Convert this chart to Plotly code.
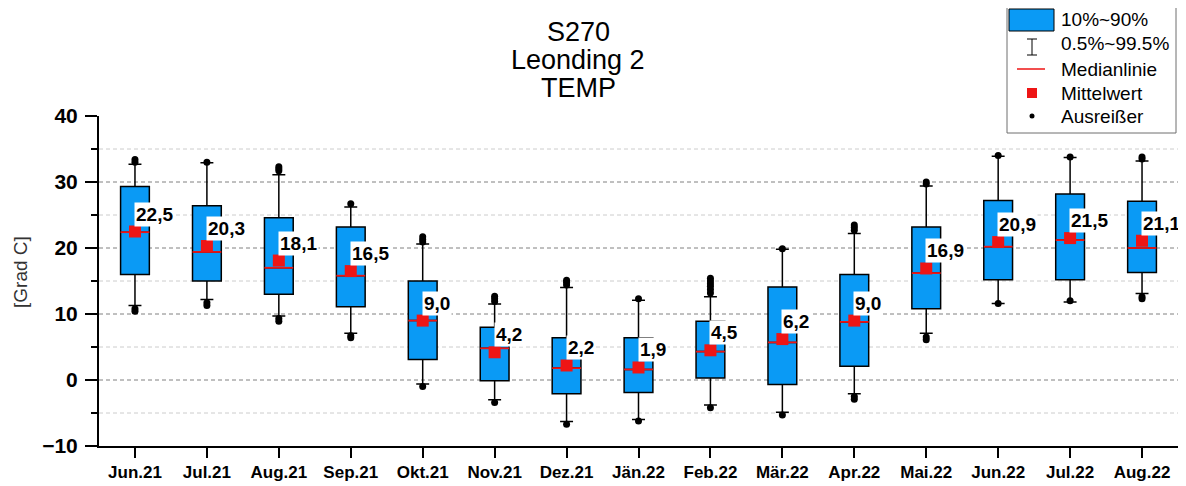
import plotly.graph_objects as go

months = ["Jun.21", "Jul.21", "Aug.21", "Sep.21", "Okt.21", "Nov.21", "Dez.21", "Jän.22",
          "Feb.22", "Mär.22", "Apr.22", "Mai.22", "Jun.22", "Jul.22", "Aug.22"]
p10 = [16.0, 15.0, 13.0, 11.1, 3.1, -0.1, -2.1, -1.9, 0.3, -0.7, 2.1, 10.8, 15.2, 15.2, 16.3]
p90 = [29.3, 26.4, 24.6, 23.2, 15.0, 8.0, 6.4, 6.4, 8.9, 14.1, 16.0, 23.2, 27.2, 28.2, 27.1]
median = [22.4, 19.4, 17.0, 15.8, 9.0, 4.8, 1.8, 1.6, 4.3, 5.7, 8.8, 16.2, 20.2, 21.2, 20.0]
mean = [22.5, 20.3, 18.1, 16.5, 9.0, 4.2, 2.2, 1.9, 4.5, 6.2, 9.0, 16.9, 20.9, 21.5, 21.1]
p005 = [11.3, 12.2, 9.7, 7.1, -0.6, -3.0, -6.3, -6.0, -3.8, -4.9, -2.1, 7.1, 11.6, 11.8, 13.1]
p995 = [32.7, 32.9, 31.1, 26.2, 20.6, 11.5, 14.0, 12.1, 12.6, 19.8, 22.2, 29.4, 33.9, 33.7, 33.2]
outliers = [
    [33.4, 33.0, 10.4, 10.8],
    [33.0, 11.3, 11.7],
    [32.3, 32.0, 31.7, 8.9, 9.3],
    [26.7, 6.4, 6.7],
    [21.7, 21.3, 20.9, -1.0],
    [12.7, 12.3, 11.9, -3.4],
    [15.1, 14.8, 14.4, -6.7],
    [12.3, -6.2],
    [15.4, 15.0, 14.6, 14.2, 13.7, 13.2, -4.2],
    [19.9, -5.3],
    [23.5, 23.1, 22.7, -2.9, -2.5],
    [30.0, 29.7, 6.1, 6.5],
    [34.0, 11.6],
    [33.8, 12.0],
    [33.8, 33.5, 12.3, 12.6],
]
title_lines = ["S270", "Leonding 2", "TEMP"]
legend_labels = ["10%~90%", "0.5%~99.5%", "Medianlinie", "Mittelwert", "Ausreißer"]
y_title = "[Grad C]"

FONT = "Arial, Liberation Sans, sans-serif"
BLUE = "#0A9AF5"
RED = "#EE1515"

# the page body adds an 8px margin; the figure is sized/placed to compensate
OFF = 8
W, H = 1186 - OFF, 486 - OFF
ML, MT = 99 - OFF, 116 - OFF
PW, PH = 1079, 330
MR = W - ML - PW
MB = H - MT - PH


def px(x):
    return (x - OFF - ML) / PW


def py(y):
    return (MT + PH - (y - OFF)) / PH


xs = list(range(len(months)))
half = 0.2

fig = go.Figure()
fig.add_trace(go.Box(
    x=xs, q1=p10, median=median, q3=p90, lowerfence=p005, upperfence=p995,
    width=0.4, fillcolor=BLUE, line=dict(color="black", width=1.5),
    whiskerwidth=0.45, boxpoints=False, showlegend=False, hoverinfo="skip"))

mx, my = [], []
for i, m in zip(xs, median):
    mx += [i - half, i + half, None]
    my += [m, m, None]
fig.add_trace(go.Scatter(x=mx, y=my, mode="lines", line=dict(color=RED, width=1.8),
                         showlegend=False, hoverinfo="skip"))

fig.add_trace(go.Scatter(x=xs, y=mean, mode="markers",
                         marker=dict(symbol="square", size=12, color=RED),
                         showlegend=False, hoverinfo="skip"))

ox, oy = [], []
for i, vals in zip(xs, outliers):
    for v in vals:
        ox.append(i)
        oy.append(v)
fig.add_trace(go.Scatter(x=ox, y=oy, mode="markers",
                         marker=dict(symbol="circle", size=7, color="black"),
                         showlegend=False, hoverinfo="skip"))

annotations = []
for i, m in zip(xs, mean):
    annotations.append(dict(
        x=i, y=m, xref="x", yref="y", xanchor="left", yanchor="bottom",
        xshift=-1, yshift=5, text="<b>" + f"{m:.1f}".replace(".", ",") + "</b>",
        showarrow=False, bgcolor="white", borderpad=1,
        font=dict(family=FONT, size=19, color="black")))

for t, yc in zip(title_lines, [32, 60, 88]):
    annotations.append(dict(x=px(578), y=py(yc), xref="paper", yref="paper",
                            xanchor="center", yanchor="middle", text=t, showarrow=False,
                            font=dict(family=FONT, size=27, color="black")))

annotations.append(dict(x=px(20), y=py(272), xref="paper", yref="paper",
                        xanchor="center", yanchor="middle", text=y_title, textangle=-90,
                        showarrow=False, font=dict(family=FONT, size=19, color="#333")))

shapes = []
for v in [0, 10, 20, 30]:
    shapes.append(dict(type="line", xref="paper", yref="y", x0=0, x1=1, y0=v, y1=v,
                       line=dict(color="#808080", width=1, dash="4px,3px"), layer="below"))
for v in [-5, 5, 15, 25, 35]:
    shapes.append(dict(type="line", xref="paper", yref="y", x0=0, x1=1, y0=v, y1=v,
                       line=dict(color="#cccccc", width=1, dash="4px,3px"), layer="below"))

# legend
shapes.append(dict(type="rect", xref="paper", yref="paper", x0=px(1007), x1=px(1176),
                   y0=py(133), y1=py(2), line=dict(color="#6e6e6e", width=1),
                   fillcolor="white", layer="above"))
shapes.append(dict(type="rect", xref="paper", yref="paper", x0=px(1009), x1=px(1054),
                   y0=py(31), y1=py(9), line=dict(color="black", width=1),
                   fillcolor=BLUE, layer="above"))
for (a, b, c, d) in [(1032, 39, 1032, 55), (1027, 39, 1037, 39), (1027, 55, 1037, 55)]:
    shapes.append(dict(type="line", xref="paper", yref="paper", x0=px(a), y0=py(b),
                       x1=px(c), y1=py(d), line=dict(color="black", width=1), layer="above"))
shapes.append(dict(type="line", xref="paper", yref="paper", x0=px(1017), y0=py(69),
                   x1=px(1045), y1=py(69), line=dict(color=RED, width=1.5), layer="above"))
shapes.append(dict(type="rect", xref="paper", yref="paper", x0=px(1027), x1=px(1037),
                   y0=py(98), y1=py(88), line=dict(width=0), fillcolor=RED, layer="above"))
shapes.append(dict(type="circle", xref="paper", yref="paper", x0=px(1029.5), x1=px(1034.5),
                   y0=py(118.5), y1=py(113.5), line=dict(width=0), fillcolor="black",
                   layer="above"))
for lab, yc in zip(legend_labels, [20, 44, 69, 93, 116]):
    annotations.append(dict(x=px(1059), y=py(yc), xref="paper", yref="paper",
                            xanchor="left", yanchor="middle", text=lab, showarrow=False,
                            font=dict(family=FONT, size=19, color="black")))

fig.update_layout(
    width=W, height=H, margin=dict(l=ML, r=MR, t=MT, b=MB, autoexpand=False),
    paper_bgcolor="white", plot_bgcolor="white",
    font=dict(family=FONT, color="black"),
    showlegend=False, annotations=annotations, shapes=shapes,
    xaxis=dict(range=[-0.5, 14.5], tickvals=xs, ticktext=months, showgrid=False,
               zeroline=False, showline=True, linecolor="black", linewidth=2,
               ticks="outside", ticklen=10, tickwidth=2, tickcolor="black",
               tickfont=dict(family=FONT, size=17, color="black", weight="bold")),
    yaxis=dict(range=[-10, 40], tickvals=[-10, 0, 10, 20, 30, 40], showgrid=False,
               zeroline=False, showline=True, linecolor="black", linewidth=2,
               ticks="outside", ticklen=12, tickwidth=2, tickcolor="black",
               ticklabelstandoff=3,
               tickfont=dict(family=FONT, size=21, color="black", weight="bold"),
               minor=dict(tickvals=[-5, 5, 15, 25, 35], ticks="outside", ticklen=6,
                          tickwidth=2, tickcolor="black", showgrid=False)),
)

fig.write_html("out.html")
